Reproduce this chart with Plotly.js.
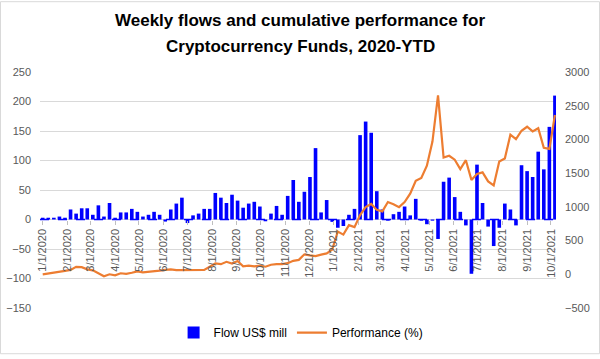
<!DOCTYPE html>
<html>
<head>
<meta charset="utf-8">
<script src="https://cdn.plot.ly/plotly-3.0.1.min.js"></script>
<style>html,body{margin:0;padding:0;background:#fff;}#chart{width:600px;height:359px;}</style>
</head>
<body>
<div id="chart"></div>
<script>
const startDate = '2020-01-01';
const flow = [3,3,3,5,3,17,10,19,19,8, 24,5,28,3,12,12,18,13,5,8, 13,8,-3.5,17,27,37,-6,7,10,18, 18,45,37,28,42,32,20,27,30,22, -3,10,23,8,40,67,30,47,72,121, 12,33,-4,-14,-11,8,18,143,166,147, 48,17,-2,9,13,22,7,35,-2,-8, -2,-33,64,71,38,13,-10,-92,93,28, -12,-45,-14,27,17,-10,92,82,72,115, 85,157,210];
const performance = [0,10,30,34,50,65,110,105,73,58, 15,-30,0,-15,15,5,22,44,29,36, 40,54,66,73,63,62,63,62,62,64, 112,160,150,185,160,197,117,127,117,127, 112,141,150,150,165,200,214,296,281,270, 292,310,365,634,588,729,700,879,996,1043, 955,933,1072,1040,996,1072,1196,1385,1429,1611, 1969,2654,1731,1757,1699,1560,1692,1400,1488,1512, 1378,1317,1673,1718,2071,2005,2129,2188,2119,2166, 1877,1859,2362];
const seriesNames = ['Flow US$ mill', 'Performance (%)'];
const titleLines = ['Weekly flows and cumulative performance for', 'Cryptocurrency Funds, 2020-YTD'];

// weekly category dates
const dates = [];
const d0 = new Date(startDate + 'T00:00:00Z');
for (let i = 0; i < flow.length; i++) {
  const d = new Date(d0.getTime() + i * 7 * 86400000);
  dates.push(d.toISOString().slice(0, 10));
}

const FONT = 'Liberation Sans, Arial, sans-serif';
const GRAY = '#595959';

const traces = [
  {type: 'bar', x: dates, y: flow, name: seriesNames[0], marker: {color: '#0000ff'}, yaxis: 'y'},
  {type: 'scatter', mode: 'lines', x: dates, y: performance, name: seriesNames[1],
   line: {color: '#ED7D31', width: 2.2}, yaxis: 'y2'}
];

const layout = {
  width: 600, height: 359,
  margin: {l: 40, r: 44, t: 72, b: 47},
  paper_bgcolor: '#fff', plot_bgcolor: '#fff',
  font: {family: FONT, color: GRAY, size: 10},
  bargap: 0.35,
  showlegend: true,
  legend: {orientation: 'h', x: 0.506, xanchor: 'center', y: -0.104, yanchor: 'middle',
           font: {family: FONT, size: 12, color: '#000'}, traceorder: 'normal'},
  xaxis: {
    type: 'date', range: ['2019-12-28 14:00', '2021-10-07 08:00'],
    anchor: 'free', position: 0.375,
    tick0: '2020-01-01', dtick: 'M1', tickformat: '%-m/%-d/%Y', tickangle: -90,
    ticks: 'outside', ticklen: 4, tickcolor: '#bfbfbf',
    showgrid: false, showline: false, zeroline: false,
    tickfont: {family: FONT, size: 11, color: GRAY}
  },
  yaxis: {
    range: [-150, 250], dtick: 50, showgrid: true, gridcolor: '#d9d9d9', gridwidth: 1,
    zeroline: false, showline: false, ticks: '', ticklabelstandoff: 8,
    tickfont: {family: FONT, size: 11, color: GRAY}
  },
  yaxis2: {
    overlaying: 'y', side: 'right', range: [-500, 3000], dtick: 500,
    showgrid: false, zeroline: false, showline: false, ticks: '', ticklabelstandoff: 8,
    tickfont: {family: FONT, size: 11, color: GRAY}
  },
  shapes: [
    {type: 'line', xref: 'paper', yref: 'y', x0: 0, x1: 1, y0: 0, y1: 0,
     line: {color: '#0000ff', width: 1.3, dash: 'dash'}, layer: 'above'},
    {type: 'rect', xref: 'paper', yref: 'paper', x0: -0.07655, x1: 1.0843, y0: -0.19375, y1: 1.29792,
     line: {color: '#d9d9d9', width: 1}, fillcolor: 'rgba(0,0,0,0)', layer: 'below'}
  ],
  annotations: [
    {text: titleLines[0], xref: 'paper', yref: 'paper', x: 0.504, y: 1.2167, xanchor: 'center', yanchor: 'middle',
     showarrow: false, font: {family: FONT, size: 17, color: '#000', weight: 'bold'}},
    {text: titleLines[1], xref: 'paper', yref: 'paper', x: 0.504, y: 1.1083, xanchor: 'center', yanchor: 'middle',
     showarrow: false, font: {family: FONT, size: 17, color: '#000', weight: 'bold'}}
  ]
};

Plotly.newPlot('chart', traces, layout, {displayModeBar: false, staticPlot: true});
</script>
</body>
</html>
